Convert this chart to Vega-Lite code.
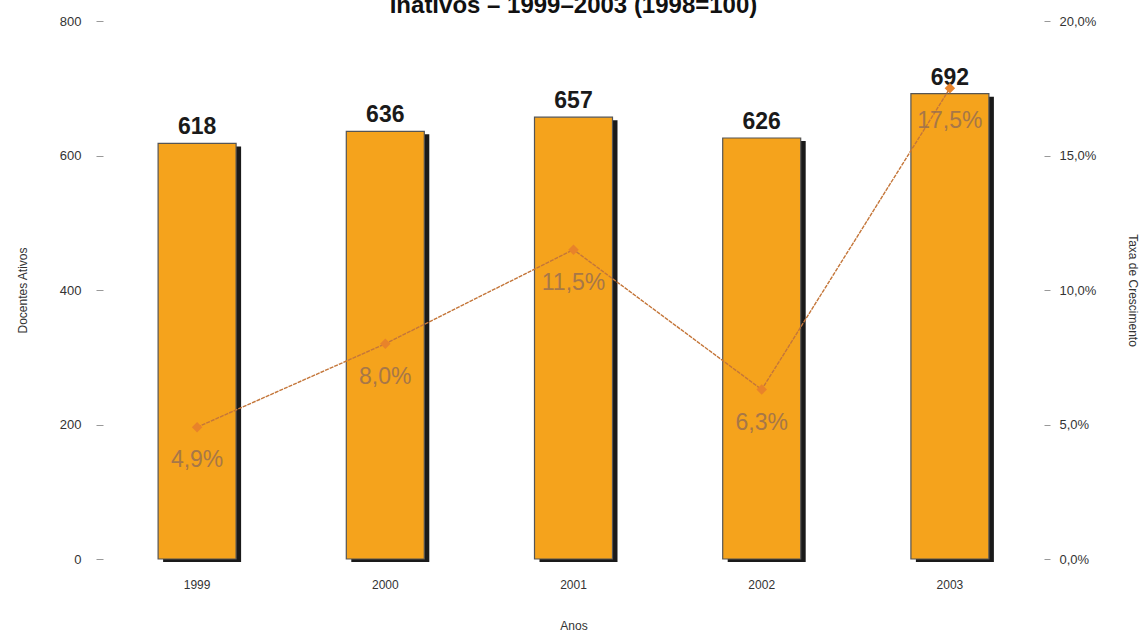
{
  "$schema": "https://vega.github.io/schema/vega-lite/v6.json",
  "width": 941,
  "height": 538,
  "autosize": "none",
  "padding": {"left": 103, "top": 21, "right": 103, "bottom": 73},
  "background": "white",
  "config": {
    "view": {"stroke": null},
    "locale": {"number": {"decimal": ",", "thousands": ".", "grouping": [3], "currency": ["R$", ""]}},
    "font": "Liberation Sans"
  },
  "title": {
    "text": "Inativos – 1999–2003 (1998=100)",
    "fontSize": 24,
    "font": "Liberation Sans",
    "fontWeight": "bold",
    "color": "#111111",
    "offset": -3,
    "anchor": "middle"
  },
  "data": {
    "values": [
      {"ano": "1999", "docentes": 618, "taxa": 0.049},
      {"ano": "2000", "docentes": 636, "taxa": 0.080},
      {"ano": "2001", "docentes": 657, "taxa": 0.115},
      {"ano": "2002", "docentes": 626, "taxa": 0.063},
      {"ano": "2003", "docentes": 692, "taxa": 0.175}
    ]
  },
  "encoding": {
    "x": {
      "field": "ano",
      "type": "ordinal",
      "axis": {
        "title": "Anos",
        "labelAngle": 0,
        "domain": false,
        "ticks": false,
        "labelPadding": 20,
        "labelFontSize": 12,
        "labelColor": "#333333",
        "titleFontSize": 12,
        "titleFontWeight": "normal",
        "titleColor": "#333333",
        "titlePadding": 30
      }
    }
  },
  "layer": [
    {
      "encoding": {
        "y": {
          "field": "docentes",
          "type": "quantitative",
          "scale": {"domain": [0, 800]},
          "axis": {
            "title": "Docentes Ativos",
            "values": [0, 200, 400, 600, 800],
            "grid": false,
            "domain": false,
            "tickSize": 7,
            "tickColor": "#999999",
            "labelPadding": 15,
            "labelFontSize": 13,
            "labelColor": "#333333",
            "titleFontSize": 12,
            "titleFontWeight": "normal",
            "titleColor": "#333333",
            "titlePadding": 30
          }
        }
      },
      "layer": [
        {"mark": {"type": "bar", "color": "#1a1a1a", "width": 78, "xOffset": 5, "yOffset": 3}},
        {"mark": {"type": "bar", "color": "#f5a31c", "stroke": "#555555", "strokeWidth": 1.2, "width": 78}},
        {
          "mark": {"type": "text", "baseline": "bottom", "dy": -4, "fontSize": 23, "fontWeight": "bold", "color": "#1a1a1a"},
          "encoding": {"text": {"field": "docentes", "type": "quantitative"}}
        }
      ]
    },
    {
      "encoding": {
        "y": {
          "field": "taxa",
          "type": "quantitative",
          "scale": {"domain": [0, 0.2]},
          "axis": {
            "orient": "right",
            "title": "Taxa de Crescimento",
            "values": [0, 0.05, 0.1, 0.15, 0.2],
            "format": ".1%",
            "grid": false,
            "domain": false,
            "tickSize": 6,
            "tickColor": "#999999",
            "labelPadding": 9,
            "labelFontSize": 13,
            "labelColor": "#333333",
            "titleFontSize": 12,
            "titleFontWeight": "normal",
            "titleColor": "#333333",
            "titlePadding": 30
          }
        }
      },
      "layer": [
        {"mark": {"type": "line", "color": "#c4763a", "strokeWidth": 1.4, "strokeDash": [4, 1]}},
        {"mark": {"type": "point", "shape": "diamond", "filled": true, "color": "#e8832a", "size": 110, "opacity": 1}},
        {
          "mark": {"type": "text", "baseline": "middle", "dy": 33, "fontSize": 23, "color": "#9a7050", "opacity": 0.85},
          "encoding": {"text": {"field": "taxa", "type": "quantitative", "format": ".1%"}}
        }
      ]
    }
  ],
  "resolve": {"scale": {"y": "independent"}}
}
